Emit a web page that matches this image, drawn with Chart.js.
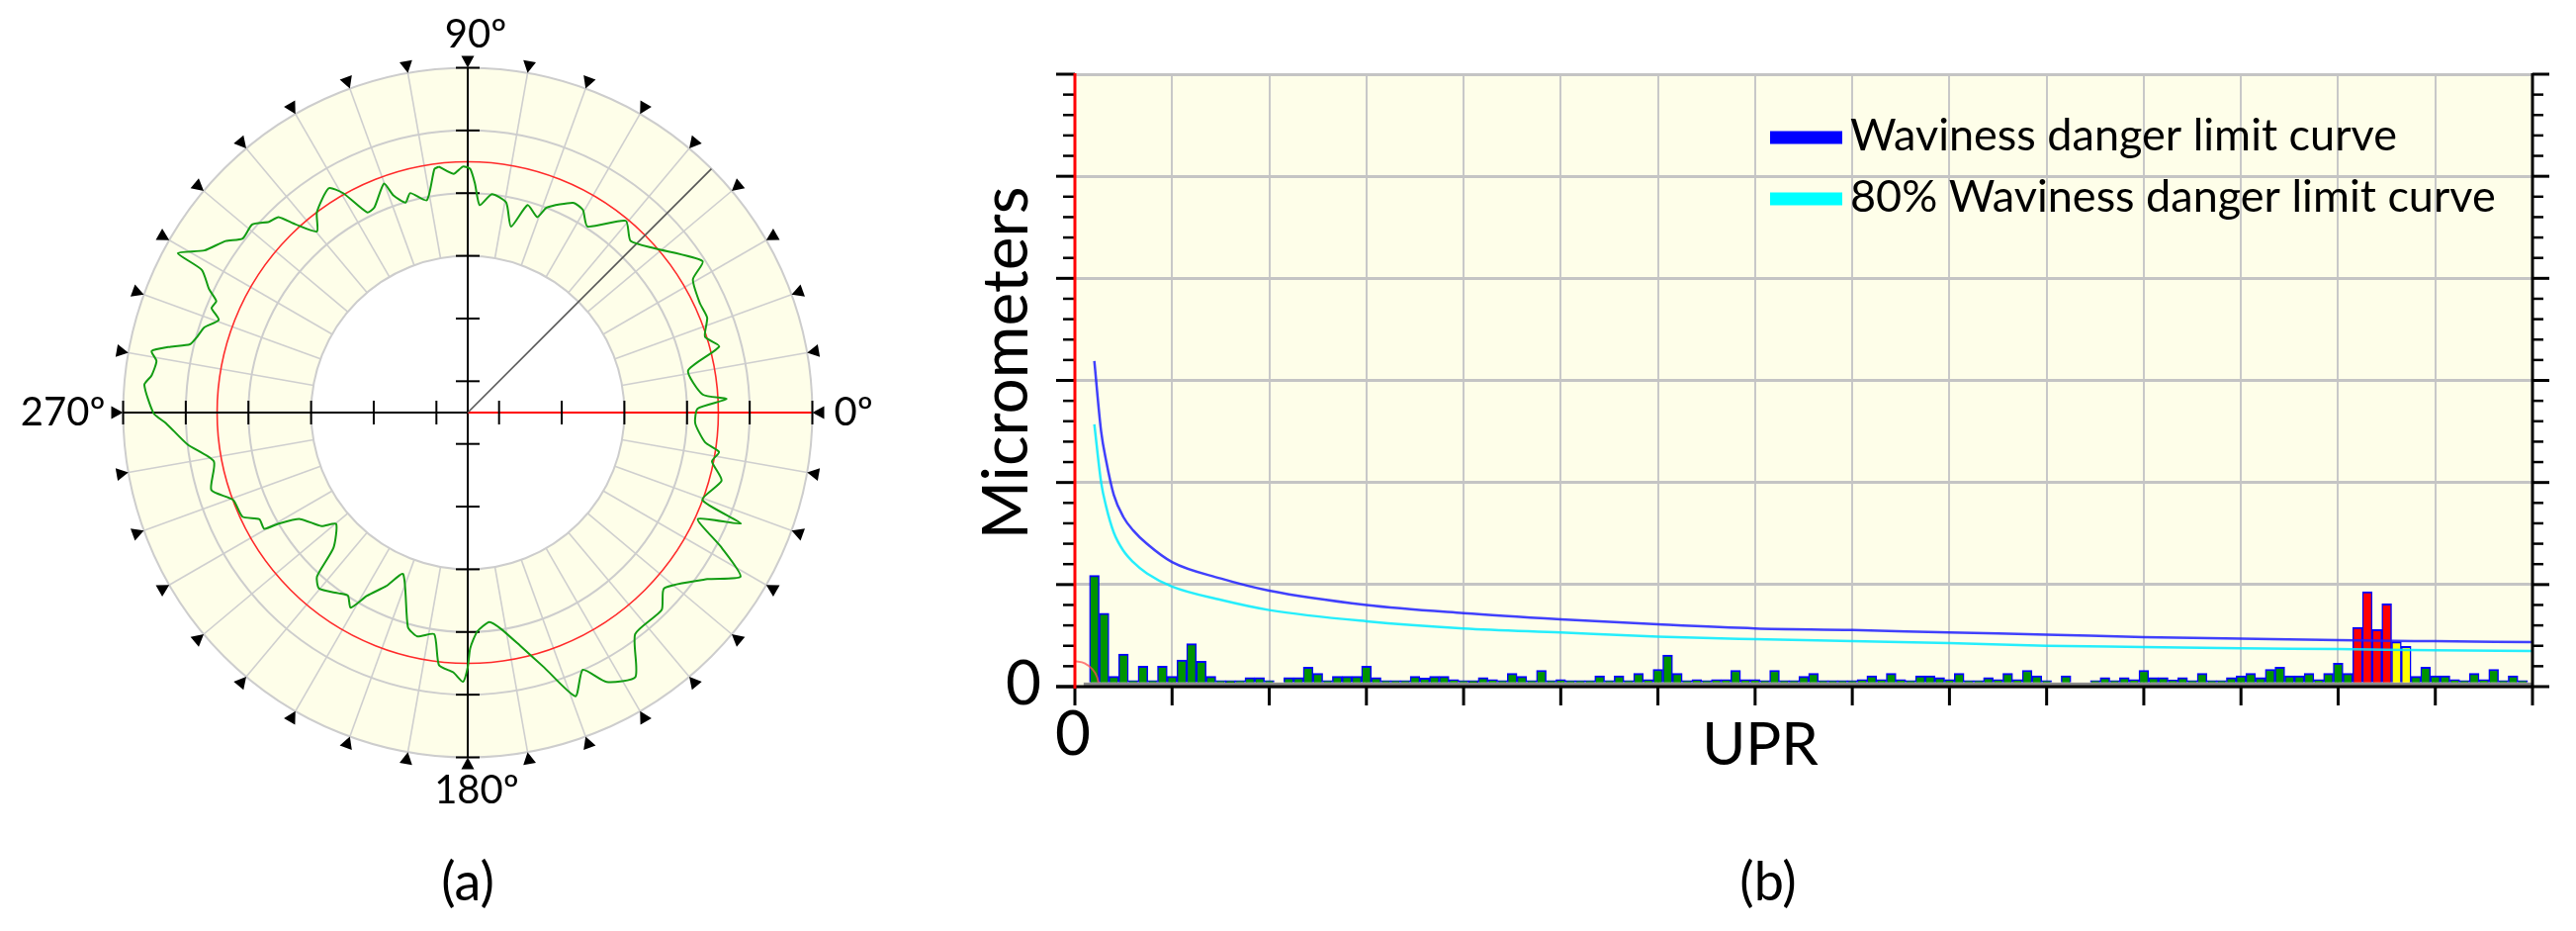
<!DOCTYPE html>
<html>
<head>
<meta charset="utf-8">
<script src="https://cdn.jsdelivr.net/npm/chart.js@4.4.1/dist/chart.umd.min.js"></script>
<style>
  html, body { margin: 0; padding: 0; background: #fff; }
  body { width: 2605px; height: 941px; position: relative; overflow: hidden; }
  #polar { position: absolute; left: 0; top: 0; }
  #spectrum { position: absolute; left: 950px; top: 0; }
</style>
</head>
<body>
<canvas id="polar" width="950" height="941"></canvas>
<canvas id="spectrum" width="1655" height="941"></canvas>
<script>
// ---------- (a) roundness profile ----------
// read clockwise from the top; angle in degrees (counter-clockwise from 0º), radius in grid units
var profileAngle = [96.7, 93.4, 91.1, 89.4, 88.2, 86.7, 83.7, 79.6, 76.9, 73.9,
  70.4, 68.9, 63.3, 60.4, 57.2, 50.5, 46.5, 41.3, 32.8, 30.6,
  25.2, 21.6, 17.7, 14.7, 10.8, 4.4, 3.0, 1.0, 357.3, 352.9,
  351.1, 348.7, 345.0, 339.6, 337.9, 335.2, 332.0, 329.0, 325.2, 318.2,
  314.5, 307.1, 302.4, 297.3, 294.1, 290.8, 286.7, 282.7, 278.8, 275.9,
  272.5, 270.6, 270.0, 269.0, 266.8, 263.5, 261.4, 257.3, 254.4, 248.2,
  244.8, 241.2, 239.0, 236.8, 234.4, 229.8, 227.4, 225.2, 220.2, 217.8,
  212.4, 210.4, 209.7, 207.1, 204.8, 200.4, 196.8, 190.9, 186.5, 182.0,
  180.2, 175.1, 173.3, 170.6, 169.0, 167.5, 166.2, 164.4, 162.1, 159.6,
  157.8, 156.1, 154.5, 151.8, 151.2, 148.4, 144.7, 142.3, 138.9, 136.2,
  134.1, 132.5, 129.8, 127.0, 121.8, 119.6, 116.7, 114.5, 110.1, 108.9,
  106.5, 104.7, 100.9, 97.8];
var profileRadius = [7.90, 7.63, 7.85, 7.77, 7.31, 6.63, 7.01, 6.81, 6.09, 6.89,
  6.62, 7.01, 7.49, 7.44, 7.06, 7.93, 7.55, 7.94, 8.92, 8.35,
  8.19, 8.22, 7.95, 8.30, 7.16, 7.52, 8.27, 7.34, 7.27, 7.63,
  8.12, 7.95, 8.39, 7.99, 9.41, 8.09, 9.18, 10.16, 9.31, 8.41,
  8.83, 8.86, 9.99, 9.67, 8.99, 9.68, 8.49, 7.63, 6.99, 6.72,
  6.99, 7.52, 8.13, 8.59, 8.30, 8.11, 7.15, 7.32, 7.10, 5.55,
  6.12, 6.67, 7.26, 6.98, 7.09, 7.35, 7.11, 6.08, 5.50, 5.91,
  6.34, 7.00, 7.48, 7.47, 7.92, 7.99, 8.55, 8.25, 9.00, 9.64,
  10.02, 10.36, 10.16, 10.07, 10.28, 9.71, 9.13, 8.97, 8.84, 8.48,
  8.83, 8.78, 9.15, 9.63, 10.56, 9.87, 9.47, 9.08, 9.13, 8.79,
  8.68, 8.15, 7.52, 8.00, 8.42, 8.05, 7.15, 7.19, 7.78, 7.32,
  6.99, 7.24, 6.90, 7.84];
var limitRadius = 8;
var ringRadii = [5, 7, 9, 11];
var axisTicks = [1, 3, 5, 7, 9, 11];
var angleLabels = ['0º', '90º', '180º', '270º'];

// ---------- (b) waviness spectrum ----------
var uprBins = [2, 3, 4, 5, 6, 7, 8, 9, 10, 11,
  12, 13, 14, 15, 16, 17, 18, 19, 20, 21,
  22, 23, 24, 25, 26, 27, 28, 29, 30, 31,
  32, 33, 34, 35, 36, 37, 38, 39, 40, 41,
  42, 43, 44, 45, 46, 47, 48, 49, 50, 51,
  52, 53, 54, 55, 56, 57, 58, 59, 60, 61,
  62, 63, 64, 65, 66, 67, 68, 69, 70, 71,
  72, 73, 74, 75, 76, 77, 78, 79, 80, 81,
  82, 83, 84, 85, 86, 87, 88, 89, 90, 91,
  92, 93, 94, 95, 96, 97, 98, 99, 100, 101,
  102, 103, 104, 105, 106, 107, 108, 109, 110, 111,
  112, 113, 114, 115, 116, 117, 118, 119, 120, 121,
  122, 123, 124, 125, 126, 127, 128, 129, 130, 131,
  132, 133, 134, 135, 136, 137, 138, 139, 140, 141,
  142, 143, 144, 145, 146, 147, 148, 149];
var amplitude = [1.05, 0.68, 0.06, 0.28, 0, 0.16, 0, 0.16, 0.06, 0.22,
  0.38, 0.21, 0.06, 0, 0.02, 0, 0.05, 0.05, 0, null,
  0.05, 0.05, 0.15, 0.09, 0, 0.06, 0.06, 0.06, 0.16, 0.05,
  0, 0, 0, 0.06, 0.045, 0.06, 0.06, 0.03, 0.01, 0.02,
  0.05, 0.03, 0, 0.09, 0.06, 0, 0.12, 0, 0.03, 0,
  0, 0, 0.065, 0, 0.065, 0, 0.09, 0.03, 0.13, 0.27,
  0.09, 0, 0.03, 0, 0.03, 0.03, 0.12, 0.03, 0.03, 0,
  0.12, 0, 0, 0.06, 0.09, 0, 0, 0, 0, 0.03,
  0.065, 0.03, 0.09, 0.03, 0, 0.065, 0.065, 0.05, 0.03, 0.09,
  0, 0, 0.05, 0.03, 0.09, 0.03, 0.12, 0.065, 0, null,
  0.065, null, null, 0, 0.05, 0, 0.05, 0.03, 0.12, 0.05,
  0.05, 0.025, 0.05, 0, 0.09, 0, 0, 0.05, 0.065, 0.09,
  0.05, 0.13, 0.15, 0.065, 0.065, 0.09, 0.03, 0.09, 0.19, 0.09,
  0.54, 0.89, 0.52, 0.77, 0.40, 0.355, 0.06, 0.15, 0.065, 0.065,
  0.03, 0, 0.09, 0.03, 0.13, 0, 0.065, 0];
var alarmBins = [132, 133, 134, 135];
var warningBins = [136, 137];

var limitUpr = [2, 2.7, 3.2, 4, 5, 6, 7.4, 10, 15, 20, 30, 40, 50, 60, 70, 80, 90, 100, 110, 120, 130, 140, 150];
var limitCurve = [3.19, 2.50, 2.22, 1.88, 1.66, 1.53, 1.40, 1.22, 1.06, 0.94, 0.80, 0.72, 0.66, 0.61, 0.57, 0.555, 0.53, 0.51, 0.485, 0.47, 0.455, 0.445, 0.436];
var limitCurve80 = [2.57, 2.00, 1.77, 1.51, 1.33, 1.22, 1.11, 0.98, 0.85, 0.75, 0.64, 0.57, 0.53, 0.49, 0.465, 0.445, 0.426, 0.40, 0.388, 0.375, 0.368, 0.356, 0.349];
var lowUpr = [0, 1, 1.8, 2.3, 2.5];
var lowCurve = [0.25, 0.23, 0.17, 0.09, 0.0];

var BAR_BASE = 0.04;

Chart.defaults.font.family = 'Lato';
Chart.defaults.color = '#000';

// ---------- chart (a) ----------
var profilePoints = profileAngle.map(function (a, i) {
  var rad = a * Math.PI / 180;
  return { x: profileRadius[i] * Math.cos(rad), y: profileRadius[i] * Math.sin(rad) };
});
profilePoints.push(profilePoints[0]);

var polarFrame = {
  id: 'polarFrame',
  beforeDatasetsDraw: function (chart) {
    var ctx = chart.ctx, sx = chart.scales.x, sy = chart.scales.y;
    var cx = sx.getPixelForValue(0), cy = sy.getPixelForValue(0);
    var unit = sx.getPixelForValue(1) - cx;
    function pt(r, deg) {
      var a = deg * Math.PI / 180;
      return [sx.getPixelForValue(r * Math.cos(a)), sy.getPixelForValue(r * Math.sin(a))];
    }
    function seg(p, q, color, w) {
      ctx.beginPath(); ctx.moveTo(p[0], p[1]); ctx.lineTo(q[0], q[1]);
      ctx.strokeStyle = color; ctx.lineWidth = w; ctx.stroke();
    }
    ctx.save();
    // yellow annulus
    ctx.beginPath();
    ctx.arc(cx, cy, 11 * unit, 0, 2 * Math.PI);
    ctx.arc(cx, cy, 5 * unit, 0, 2 * Math.PI, true);
    ctx.fillStyle = '#fefee9';
    ctx.fill();
    // spokes
    for (var d = 0; d < 360; d += 10) seg(pt(5, d), pt(11, d), '#cfcfcf', 1.6);
    // rings
    ringRadii.forEach(function (r) {
      ctx.beginPath(); ctx.arc(cx, cy, r * unit, 0, 2 * Math.PI);
      ctx.strokeStyle = '#cdcdcd'; ctx.lineWidth = 2; ctx.stroke();
    });
    // limit circle
    ctx.beginPath(); ctx.arc(cx, cy, limitRadius * unit, 0, 2 * Math.PI);
    ctx.strokeStyle = '#ff2a2a'; ctx.lineWidth = 1.6; ctx.stroke();
    // axes
    seg(pt(11, 180), pt(0, 0), '#000', 2);
    seg(pt(11, 90), pt(11, 270), '#000', 2);
    seg(pt(0, 0), pt(11, 0), '#ff0000', 2);
    axisTicks.forEach(function (r) {
      [1, -1].forEach(function (s) {
        var hx = sx.getPixelForValue(s * r);
        seg([hx, cy - 12], [hx, cy + 12], '#000', 2);
        var vy = sy.getPixelForValue(s * r);
        seg([cx - 12, vy], [cx + 12, vy], '#000', 2);
      });
    });
    // marker line at 45º
    seg(pt(0, 0), pt(11, 45), '#555', 1.6);
    ctx.restore();
  },
  afterDatasetsDraw: function (chart) {
    var ctx = chart.ctx, sx = chart.scales.x, sy = chart.scales.y;
    var cx = sx.getPixelForValue(0), cy = sy.getPixelForValue(0);
    var unit = sx.getPixelForValue(1) - cx;
    ctx.save();
    // inward triangles every 10º
    ctx.fillStyle = '#000';
    for (var d = 0; d < 360; d += 10) {
      var a = d * Math.PI / 180;
      var ux = Math.cos(a), uy = -Math.sin(a);
      var tx = sx.getPixelForValue(11 * Math.cos(a)), ty = sy.getPixelForValue(11 * Math.sin(a));
      var bx = tx + ux * 12, by = ty + uy * 12;
      ctx.beginPath();
      ctx.moveTo(tx, ty);
      ctx.lineTo(bx - uy * 6.5, by + ux * 6.5);
      ctx.lineTo(bx + uy * 6.5, by - ux * 6.5);
      ctx.closePath();
      ctx.fill();
    }
    var R = 11 * unit;
    ctx.font = '40px Lato';
    ctx.textBaseline = 'middle';
    ctx.textAlign = 'left';
    ctx.fillText(angleLabels[0], cx + R + 22, cy);
    ctx.textAlign = 'center';
    ctx.fillText(angleLabels[1], cx + 8, cy - R - 33);
    ctx.fillText(angleLabels[2], cx + 9, cy + R + 34);
    ctx.textAlign = 'right';
    ctx.fillText(angleLabels[3], cx - R - 18, cy);
    ctx.textAlign = 'center';
    ctx.font = '54px Lato';
    ctx.fillText('(a)', cx, cy + 476);
    ctx.restore();
  }
};

new Chart(document.getElementById('polar'), {
  type: 'scatter',
  data: {
    datasets: [{
      data: profilePoints,
      showLine: true,
      borderColor: '#139c13',
      borderWidth: 2,
      pointRadius: 0,
      tension: 0.2
    }]
  },
  options: {
    responsive: false,
    animation: false,
    devicePixelRatio: 1,
    layout: { padding: { left: 124.5, right: 128.5, top: 68.5, bottom: 175.5 } },
    scales: {
      x: { type: 'linear', min: -11, max: 11, display: false },
      y: { type: 'linear', min: -11, max: 11, display: false }
    },
    plugins: { legend: { display: false }, tooltip: { enabled: false } }
  },
  plugins: [polarFrame]
});

// ---------- chart (b) ----------
var barData = uprBins.map(function (u, i) {
  return { x: u, y: amplitude[i] === null ? null : [BAR_BASE, BAR_BASE + amplitude[i]] };
});
var barFill = uprBins.map(function (u) {
  if (alarmBins.indexOf(u) >= 0) return '#ff0000';
  if (warningBins.indexOf(u) >= 0) return '#ffff00';
  return '#009400';
});
function pairs(xs, ys) {
  return xs.map(function (x, i) { return { x: x, y: ys[i] }; });
}

var spectrumFrame = {
  id: 'spectrumFrame',
  beforeDraw: function (chart) {
    var a = chart.chartArea, ctx = chart.ctx;
    ctx.save();
    ctx.fillStyle = '#fefee9';
    ctx.fillRect(a.left, a.top, a.right - a.left, a.bottom - a.top);
    ctx.restore();
  },
  afterDraw: function (chart) {
    var a = chart.chartArea, ctx = chart.ctx, sx = chart.scales.x, sy = chart.scales.y;
    function seg(x1, y1, x2, y2, color, w) {
      ctx.beginPath(); ctx.moveTo(x1, y1); ctx.lineTo(x2, y2);
      ctx.strokeStyle = color; ctx.lineWidth = w; ctx.stroke();
    }
    ctx.save();
    // grey base strip under the bars
    var y0 = sy.getPixelForValue(0.005), yb = sy.getPixelForValue(BAR_BASE);
    ctx.fillStyle = '#8c8c8c';
    ctx.fillRect(sx.getPixelForValue(0.9), yb, sx.getPixelForValue(150) - sx.getPixelForValue(0.9), y0 - yb);
    // vertical ticks (left and right)
    for (var k = 0; k <= 30; k++) {
      var v = k / 5, py = sy.getPixelForValue(v);
      var major = k % 5 === 0;
      seg(a.left - (major ? 19 : 12), py, a.left, py, '#000', major ? 3 : 2.5);
      seg(a.right, py, a.right + (major ? 17 : 11), py, '#000', major ? 3 : 2.5);
    }
    // axes
    seg(a.right, a.top - 1, a.right, a.bottom, '#000', 3);
    seg(a.left - 19, a.bottom, a.right + 1, a.bottom, '#000', 3);
    for (var u = 0; u <= 150; u += 10) {
      var px = sx.getPixelForValue(u);
      seg(px, a.bottom, px, a.bottom + 19, '#000', 3);
    }
    seg(a.left, a.top - 1, a.left, a.bottom + 2, '#ff0000', 3);

    // tick labels and axis titles
    ctx.fillStyle = '#000';
    ctx.textAlign = 'center';
    ctx.textBaseline = 'middle';
    ctx.font = '62px Lato';
    ctx.fillText('0', a.left - 52, sy.getPixelForValue(0) - 2);
    ctx.fillText('0', sx.getPixelForValue(0) - 2, a.bottom + 49);
    ctx.font = '60px Lato';
    ctx.fillText('UPR', a.left + 693, a.bottom + 60);
    ctx.font = '54px Lato';
    ctx.fillText('(b)', a.left + 701, a.bottom + 199);
    ctx.save();
    ctx.translate(a.left - 69, a.top + 292);
    ctx.rotate(-Math.PI / 2);
    ctx.font = '64px Lato';
    ctx.fillText('Micrometers', 0, 0);
    ctx.restore();

    // legend
    var items = [
      { text: chart.data.datasets[1].label, color: '#0000ff', y: a.top + 64 },
      { text: chart.data.datasets[2].label, color: '#00ffff', y: a.top + 126 }
    ];
    ctx.font = '45px Lato';
    ctx.textAlign = 'left';
    ctx.textBaseline = 'alphabetic';
    items.forEach(function (it) {
      ctx.fillStyle = it.color;
      ctx.fillRect(a.right - 771, it.y - 6.5, 73, 13);
      ctx.fillStyle = '#000';
      ctx.fillText(it.text, a.right - 690, it.y + 13);
    });
    ctx.restore();
  }
};

new Chart(document.getElementById('spectrum'), {
  type: 'bar',
  data: {
    datasets: [{
      type: 'bar',
      label: 'Waviness amplitude',
      data: barData,
      backgroundColor: barFill,
      borderColor: '#0000ff',
      borderWidth: { top: 2, left: 1.5, right: 1.5, bottom: 0 },
      borderSkipped: false,
      barPercentage: 1,
      categoryPercentage: 1,
      minBarLength: 2,
      order: 3
    }, {
      type: 'line',
      label: 'Waviness danger limit curve',
      data: pairs(limitUpr, limitCurve),
      borderColor: 'rgba(30, 30, 255, 0.85)',
      borderWidth: 2.5,
      pointRadius: 0,
      cubicInterpolationMode: 'monotone',
      order: 1
    }, {
      type: 'line',
      label: '80% Waviness danger limit curve',
      data: pairs(limitUpr, limitCurve80),
      borderColor: 'rgba(0, 235, 255, 0.85)',
      borderWidth: 2.5,
      pointRadius: 0,
      cubicInterpolationMode: 'monotone',
      order: 1
    }, {
      type: 'line',
      label: 'low UPR limit',
      data: pairs(lowUpr, lowCurve),
      borderColor: 'rgba(255, 80, 80, 0.75)',
      borderWidth: 2,
      pointRadius: 0,
      cubicInterpolationMode: 'monotone',
      order: 2
    }]
  },
  options: {
    responsive: false,
    animation: false,
    devicePixelRatio: 1,
    layout: { padding: { left: 137, right: 44, top: 75, bottom: 247 } },
    scales: {
      x: {
        type: 'linear', min: 0, max: 150, offset: false,
        ticks: { display: false, stepSize: 10 },
        grid: { color: '#c8c8c8', lineWidth: 2, drawTicks: false, offset: false },
        border: { display: false }
      },
      y: {
        type: 'linear', min: 0, max: 6,
        ticks: { display: false, stepSize: 1 },
        grid: { color: '#c4c4c4', lineWidth: 3, drawTicks: false },
        border: { display: false }
      }
    },
    plugins: { legend: { display: false }, tooltip: { enabled: false } }
  },
  plugins: [spectrumFrame]
});
</script>
</body>
</html>
